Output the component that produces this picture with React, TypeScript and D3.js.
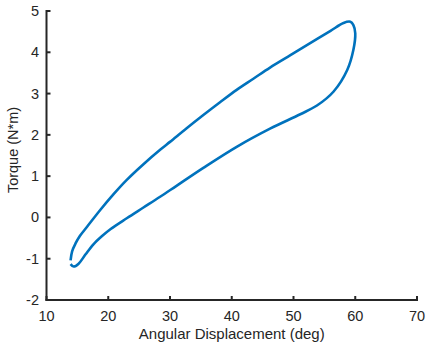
import React from "react";
import * as d3 from "d3";

const angle = [13.9, 14.4, 15.2, 16.3, 17.6, 19.0, 20.4, 23.0, 25.7, 28.4, 31.0, 35.4, 40.8, 46.2, 51.1, 53.8, 56.5, 58.7, 59.7, 60.0, 59.7, 59.2, 58.1, 56.0, 52.7, 49.5, 46.2, 43.5, 40.8, 38.1, 35.4, 32.7, 30.0, 28.5, 25.7, 23.0, 20.9, 18.7, 16.6, 15.4, 14.7, 14.15, 13.9];
const torque = [-1.13, -1.19, -1.12, -0.9, -0.65, -0.45, -0.28, -0.02, 0.24, 0.5, 0.76, 1.2, 1.71, 2.15, 2.5, 2.71, 3.05, 3.57, 4.06, 4.46, 4.66, 4.74, 4.71, 4.52, 4.22, 3.93, 3.63, 3.36, 3.09, 2.79, 2.48, 2.16, 1.83, 1.65, 1.29, 0.91, 0.57, 0.18, -0.22, -0.45, -0.63, -0.82, -1.04];
const xTicks = [10, 20, 30, 40, 50, 60, 70];
const yTicks = [-2, -1, 0, 1, 2, 3, 4, 5];

export default function App() {
  const W = 427, H = 345;
  const x = d3.scaleLinear().domain([10, 70]).range([46.5, 417]);
  const y = d3.scaleLinear().domain([-2, 5]).range([300, 11]);
  const pts: [number, number][] = angle.map((a, i) => [a, torque[i]]);
  const line = d3.line<[number, number]>().x(d => x(d[0])).y(d => y(d[1])).curve(d3.curveCatmullRom.alpha(0.5));
  const axisColor = "#262626";
  const font = "'Liberation Sans', Arial, Helvetica, sans-serif";
  return (
    <svg width={W} height={H} style={{ position: "absolute", left: 0, top: 0, background: "#fff" }}>
      <path d={line(pts) || ""} fill="none" stroke="#0072BD" strokeWidth={2.6} strokeLinejoin="round" />
      <line x1={x(10)} x2={x(70)} y1={y(-2)} y2={y(-2)} stroke={axisColor} strokeWidth={2} strokeLinecap="square" />
      <line x1={x(10)} x2={x(10)} y1={y(-2)} y2={y(5)} stroke={axisColor} strokeWidth={2} strokeLinecap="square" />
      {xTicks.map(t => (
        <g key={"x" + t}>
          <line x1={x(t)} x2={x(t)} y1={y(-2)} y2={y(-2) - 4} stroke={axisColor} strokeWidth={2} />
          <text x={x(t)} y={321} fontSize={14.5} fontFamily={font} fill={axisColor} textAnchor="middle">{t}</text>
        </g>
      ))}
      {yTicks.map(t => (
        <g key={"y" + t}>
          <line x1={x(10)} x2={x(10) + 4} y1={y(t)} y2={y(t)} stroke={axisColor} strokeWidth={2} />
          <text x={39} y={y(t) + 5} fontSize={14.5} fontFamily={font} fill={axisColor} textAnchor="end">{t}</text>
        </g>
      ))}
      <text x={(x(10) + x(70)) / 2} y={339} fontSize={15} fontFamily={font} fill={axisColor} textAnchor="middle">Angular Displacement (deg)</text>
      <text transform={`translate(18, 150) rotate(-90)`} fontSize={14.5} fontFamily={font} fill={axisColor} textAnchor="middle">Torque (N*m)</text>
    </svg>
  );
}
